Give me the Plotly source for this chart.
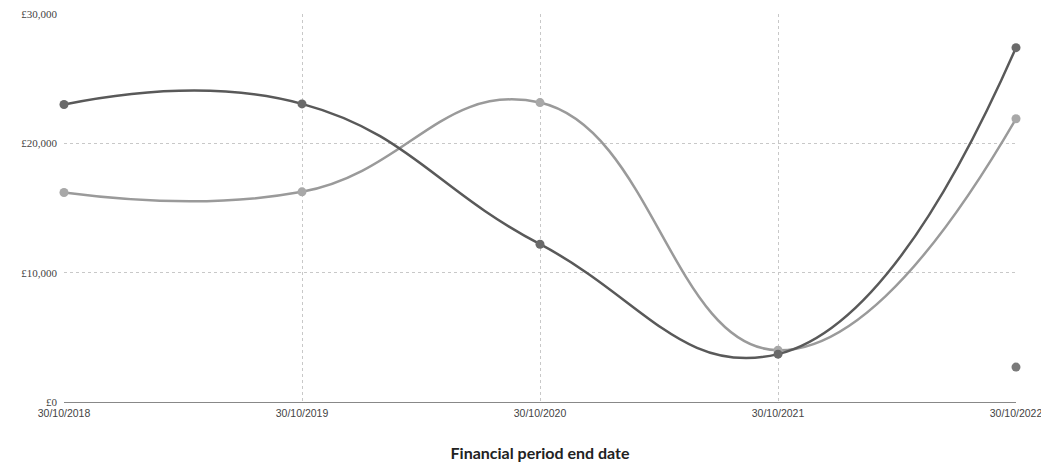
import plotly.graph_objects as go

dates = ["30/10/2018", "30/10/2019", "30/10/2020", "30/10/2021", "30/10/2022"]
series_dark = [23000, 23050, 12200, 3700, 27400]
series_light = [16200, 16250, 23150, 4000, 21900]
extra_dates = ["30/10/2022"]
extra_vals = [2700]

y_ticks = [0, 10000, 20000, 30000]
y_labels = ["£0", "£10,000", "£20,000", "£30,000"]

fig = go.Figure()
fig.add_trace(go.Scatter(x=dates, y=series_light, mode="lines+markers",
                         line=dict(color="#9a9a9a", width=2.5, shape="spline", smoothing=1.3),
                         marker=dict(color="#a8a8a8", size=9), cliponaxis=False))
fig.add_trace(go.Scatter(x=dates, y=series_dark, mode="lines+markers",
                         line=dict(color="#595959", width=2.5, shape="spline", smoothing=1.3),
                         marker=dict(color="#6a6a6a", size=9), cliponaxis=False))
fig.add_trace(go.Scatter(x=extra_dates, y=extra_vals, mode="markers",
                         marker=dict(color="#7a7a7a", size=9), cliponaxis=False))

fig.update_layout(
    width=1041, height=458,
    margin=dict(l=56, r=33, t=6, b=64),
    paper_bgcolor="white", plot_bgcolor="white",
    showlegend=False,
    xaxis=dict(type="category", range=[0, 4], automargin=False, ticklabeloverflow="allow",
               showgrid=True, gridcolor="#c8c8c8", griddash="dot",
               gridwidth=1, zeroline=False, showline=False, ticks="", ticklabelstandoff=3,
               tickfont=dict(family="Liberation Sans, Arial", size=10.5, color="#444"),
               title=dict(text="<b>Financial period end date</b>",
                          font=dict(family="Lato, Open Sans, sans-serif", size=16, color="#222"),
                          standoff=30)),
    yaxis=dict(range=[0, 30000], tickvals=y_ticks, ticktext=y_labels, automargin=False,
               ticklabeloverflow="allow",
               showgrid=True, gridcolor="#c8c8c8", griddash="dot", gridwidth=1,
               zeroline=True, zerolinecolor="#888", zerolinewidth=1,
               showline=False, ticks="", ticklabelstandoff=6,
               tickfont=dict(family="Liberation Serif, Times New Roman, serif", size=11, color="#444")),
)

fig.write_html("out.html")
